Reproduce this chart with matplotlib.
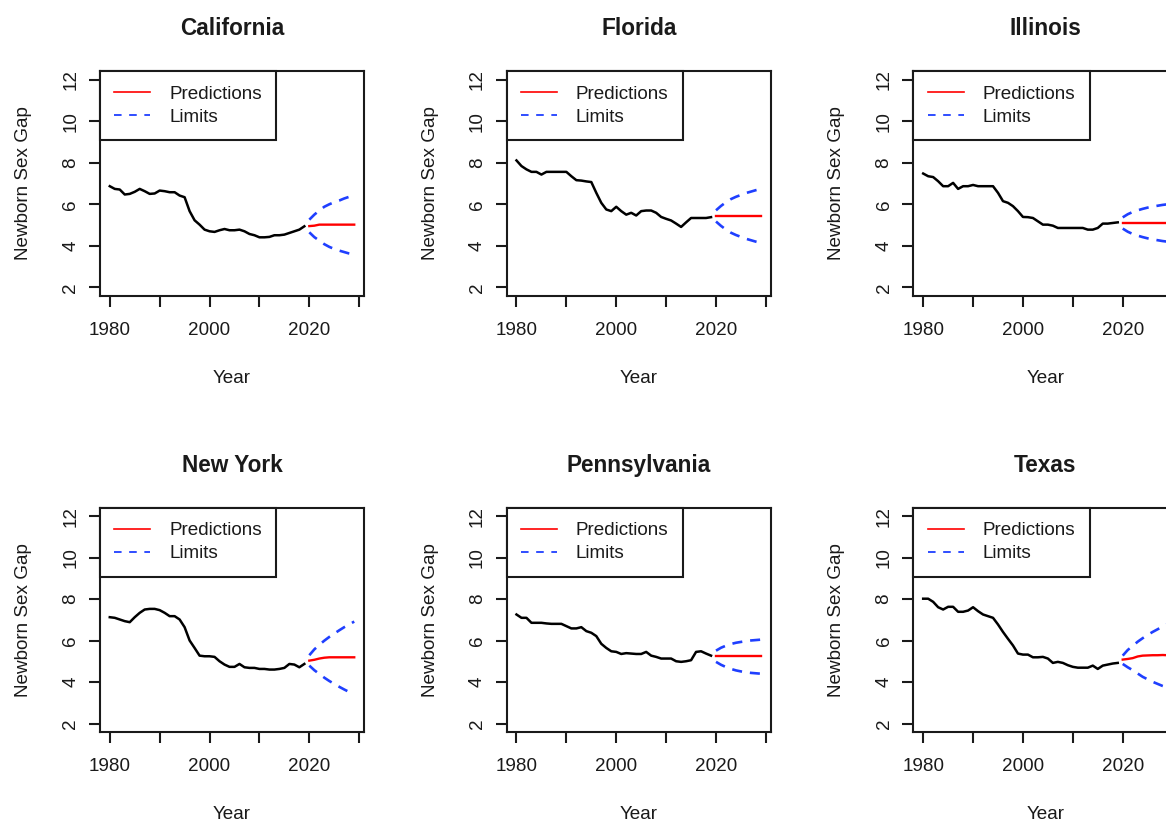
import matplotlib.pyplot as plt
from matplotlib.lines import Line2D
import numpy as np

plt.rcParams['font.family'] = ['Liberation Sans', 'DejaVu Sans']

years_hist = np.arange(1980, 2020)
years_pred = np.arange(2020, 2030)

ca_hist = [6.87, 6.74, 6.71, 6.47, 6.50, 6.60, 6.74, 6.63, 6.50, 6.52,
           6.66, 6.63, 6.58, 6.58, 6.42, 6.34, 5.67, 5.23, 5.02, 4.78,
           4.70, 4.67, 4.75, 4.81, 4.75, 4.75, 4.78, 4.70, 4.57, 4.51,
           4.41, 4.41, 4.43, 4.51, 4.51, 4.54, 4.62, 4.70, 4.78, 4.94]
ca_pred = [4.95, 4.97, 5.02, 5.02, 5.02, 5.02, 5.02, 5.02, 5.02, 5.02]
ca_upper = [5.26, 5.50, 5.70, 5.88, 6.00, 6.10, 6.18, 6.28, 6.36, 6.44]
ca_lower = [4.65, 4.42, 4.25, 4.08, 3.95, 3.85, 3.77, 3.70, 3.63, 3.58]

fl_hist = [8.11, 7.84, 7.68, 7.56, 7.56, 7.43, 7.56, 7.56, 7.56, 7.56,
           7.56, 7.35, 7.16, 7.14, 7.10, 7.07, 6.55, 6.07, 5.75, 5.67,
           5.88, 5.67, 5.50, 5.59, 5.46, 5.67, 5.70, 5.70, 5.59, 5.39,
           5.30, 5.22, 5.07, 4.91, 5.13, 5.34, 5.34, 5.34, 5.34, 5.38]
fl_pred = [5.44] * 10
fl_upper = [5.71, 5.92, 6.10, 6.25, 6.36, 6.45, 6.54, 6.61, 6.68, 6.74]
fl_lower = [5.17, 4.96, 4.78, 4.63, 4.52, 4.43, 4.34, 4.27, 4.20, 4.14]

il_hist = [7.48, 7.35, 7.31, 7.11, 6.87, 6.87, 7.03, 6.74, 6.87, 6.87,
           6.93, 6.87, 6.87, 6.87, 6.87, 6.55, 6.15, 6.07, 5.91, 5.67,
           5.39, 5.38, 5.34, 5.18, 5.02, 5.02, 4.97, 4.86, 4.86, 4.86,
           4.86, 4.86, 4.86, 4.78, 4.78, 4.86, 5.07, 5.07, 5.10, 5.13]
il_pred = [5.10] * 10
il_upper = [5.37, 5.52, 5.63, 5.71, 5.78, 5.84, 5.89, 5.93, 5.97, 6.00]
il_lower = [4.83, 4.68, 4.57, 4.49, 4.42, 4.36, 4.31, 4.27, 4.23, 4.20]

ny_hist = [7.13, 7.10, 7.02, 6.94, 6.89, 7.13, 7.34, 7.50, 7.53, 7.53,
           7.47, 7.34, 7.18, 7.18, 7.02, 6.65, 6.01, 5.65, 5.28, 5.25,
           5.25, 5.22, 5.01, 4.85, 4.74, 4.74, 4.88, 4.72, 4.69, 4.69,
           4.64, 4.64, 4.61, 4.61, 4.64, 4.69, 4.88, 4.85, 4.72, 4.88]
ny_pred = [5.04, 5.08, 5.14, 5.18, 5.20, 5.20, 5.20, 5.20, 5.20, 5.20]
ny_upper = [5.30, 5.58, 5.80, 6.00, 6.18, 6.34, 6.50, 6.65, 6.78, 6.92]
ny_lower = [4.80, 4.58, 4.40, 4.22, 4.06, 3.92, 3.78, 3.65, 3.53, 3.43]

pa_hist = [7.26, 7.10, 7.10, 6.86, 6.86, 6.86, 6.83, 6.81, 6.81, 6.81,
           6.70, 6.59, 6.59, 6.65, 6.46, 6.38, 6.22, 5.85, 5.65, 5.49,
           5.46, 5.36, 5.40, 5.38, 5.36, 5.36, 5.46, 5.28, 5.22, 5.14,
           5.14, 5.14, 5.01, 4.98, 5.01, 5.06, 5.46, 5.49, 5.38, 5.28]
pa_pred = [5.28] * 10
pa_upper = [5.52, 5.66, 5.76, 5.84, 5.90, 5.94, 5.98, 6.01, 6.03, 6.05]
pa_lower = [4.98, 4.84, 4.73, 4.64, 4.57, 4.52, 4.48, 4.45, 4.43, 4.41]

tx_hist = [8.02, 8.02, 7.87, 7.61, 7.50, 7.63, 7.63, 7.39, 7.39, 7.45,
           7.61, 7.42, 7.26, 7.18, 7.10, 6.78, 6.42, 6.09, 5.77, 5.38,
           5.33, 5.33, 5.20, 5.20, 5.22, 5.14, 4.93, 4.98, 4.93, 4.82,
           4.74, 4.70, 4.70, 4.70, 4.80, 4.64, 4.80, 4.85, 4.90, 4.93]
tx_pred = [5.09, 5.12, 5.16, 5.24, 5.28, 5.29, 5.30, 5.30, 5.31, 5.30]
tx_upper = [5.28, 5.55, 5.75, 5.95, 6.12, 6.28, 6.42, 6.55, 6.68, 6.80]
tx_lower = [4.88, 4.72, 4.58, 4.42, 4.26, 4.14, 4.02, 3.92, 3.82, 3.74]

states = ["California", "Florida", "Illinois", "New York", "Pennsylvania", "Texas"]
series = [(ca_hist, ca_pred, ca_upper, ca_lower),
          (fl_hist, fl_pred, fl_upper, fl_lower),
          (il_hist, il_pred, il_upper, il_lower),
          (ny_hist, ny_pred, ny_upper, ny_lower),
          (pa_hist, pa_pred, pa_upper, pa_lower),
          (tx_hist, tx_pred, tx_upper, tx_lower)]

W, H = 1166, 823
fig = plt.figure(figsize=(W / 100, H / 100), dpi=100)
fs = 13.6
blue = '#1f3fff'
ink = '#1a1a1a'

for i, state in enumerate(states):
    r, c = divmod(i, 3)
    left = 100 + 406.7 * c
    top = 71.3 + 436.4 * r
    ax = fig.add_axes([left / W, 1 - (top + 224.4) / H, 264 / W, 224.4 / H])
    hist, pred, upper, lower = series[i]

    ax.plot(years_hist, hist, color='black', lw=1.8)
    ax.plot(years_pred, pred, color='red', lw=1.7)
    ax.plot(years_pred, upper, color=blue, lw=1.9, ls=(0, (3.8, 3.0)))
    ax.plot(years_pred, lower, color=blue, lw=1.9, ls=(0, (3.8, 3.0)))

    ax.set_xlim(1978.04, 2030.96)
    ax.set_ylim(1.6, 12.4)
    ax.set_xticks(range(1980, 2031, 10))
    ax.set_xticklabels(['1980', '', '2000', '', '2020', ''])
    ax.set_yticks(range(2, 13, 2))
    ax.tick_params(axis='both', direction='out', length=8, width=1.5,
                   labelsize=fs, colors=ink)
    ax.tick_params(axis='x', pad=11)
    ax.tick_params(axis='y', labelrotation=90, pad=7)
    for lab in ax.get_yticklabels():
        lab.set_va('center')
    for sp in ax.spines.values():
        sp.set_linewidth(1.5)
        sp.set_color(ink)

    ax.set_title(state, fontsize=16.3, fontweight='bold', pad=26, color=ink)
    ax.set_xlabel('Year', fontsize=fs, color=ink)
    ax.xaxis.set_label_coords(0.5, -0.367)
    ax.xaxis.label.set_va('center')
    ax.set_ylabel('Newborn Sex Gap', fontsize=fs, color=ink)
    ax.yaxis.set_label_coords(-0.29, 0.5)
    ax.yaxis.label.set_va('center')

    handles = [Line2D([], [], color='red', lw=1.2),
               Line2D([], [], color=blue, lw=1.3, ls=(0, (4.2, 4.2)))]
    leg = ax.legend(handles, ['Predictions', 'Limits'], loc='upper left',
                    bbox_to_anchor=(0, 1), borderaxespad=0, fontsize=fs,
                    fancybox=False, frameon=True, handlelength=1.9,
                    handletextpad=1.0, borderpad=0.76, labelspacing=0.3)
    for t in leg.get_texts():
        t.set_color(ink)
    leg.get_frame().set_edgecolor(ink)
    leg.get_frame().set_linewidth(1.5)
    leg.get_frame().set_alpha(1)

fig.savefig('out.png', dpi=100)
